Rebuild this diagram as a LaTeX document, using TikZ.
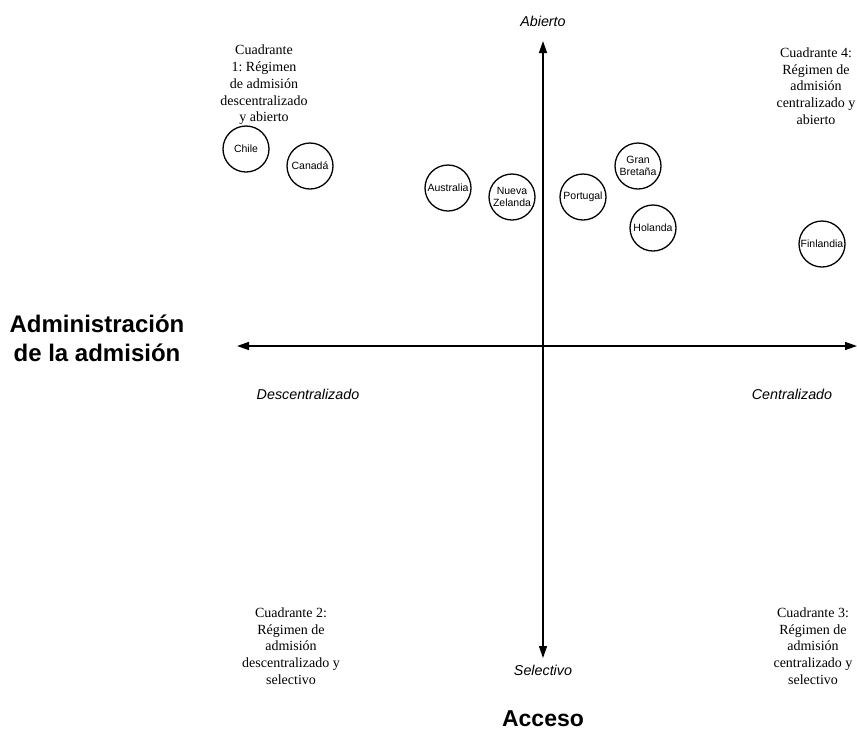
\documentclass[tikz,border=0pt]{standalone}
\usepackage{fontspec}
\setmainfont{Liberation Serif}
\setsansfont{Liberation Sans}
\usetikzlibrary{arrows.meta}
\frenchspacing

\tikzset{
  pais/.style={circle, draw, line width=1.3pt, minimum size=46pt, inner sep=0pt,
    align=center, font=\sffamily\fontsize{10.5}{11.5}\selectfont},
  cuadrante/.style={align=center, font=\fontsize{14}{16.7}\selectfont},
  polo/.style={font=\sffamily\itshape\fontsize{14.3}{16}\selectfont},
  titulo/.style={align=center, font=\sffamily\bfseries\fontsize{24}{29}\selectfont},
  eje/.style={line width=1.4pt, {Triangle[length=12pt,width=8pt]}-{Triangle[length=12pt,width=8pt]}}
}

\begin{document}
\begin{tikzpicture}[x=1pt,y=-1pt]
    \useasboundingbox (0,0) rectangle (857,732);
    % ejes
    \coordinate (arriba) at (543,41);
    \coordinate (abajo) at (543,658);
    \coordinate (izq) at (237,346);
    \coordinate (der) at (857,346);
    \draw[eje] (izq) -- (der);
    \draw[eje] (abajo) -- (arriba);
    \node[polo] (abierto) at (543,21) {Abierto};
    \node[polo] (selectivo) at (543,670) {Selectivo};
    \node[polo] (descentr) at (308,394) {Descentralizado};
    \node[polo] (centr) at (792,394) {Centralizado};
    \node[titulo, font=\sffamily\bfseries\fontsize{23}{29}\selectfont] (acceso) at (543,719) {Acceso};
    \node[titulo] (admin) at (97,338) {Administración\\de la admisión};
    % cuadrantes
    \node[cuadrante] (c1) at (264,85) {Cuadrante\\1: Régimen\\de admisión\\descentralizado\\y abierto};
    \node[cuadrante] (c4) at (816,86) {Cuadrante 4:\\Régimen de\\admisión\\centralizado y\\abierto};
    \node[cuadrante] (c2) at (291,646) {Cuadrante 2:\\Régimen de\\admisión\\descentralizado y\\selectivo};
    \node[cuadrante] (c3) at (813,646) {Cuadrante 3:\\Régimen de\\admisión\\centralizado y\\selectivo};
    % paises
    \node[pais] (chile) at (246,149) {Chile};
    \node[pais] (canada) at (310,166) {Canadá};
    \node[pais] (australia) at (448,188) {Australia};
    \node[pais] (nz) at (512,197) {Nueva\\Zelanda};
    \node[pais] (portugal) at (583,197) {Portugal};
    \node[pais] (gb) at (638,166) {Gran\\Bretaña};
    \node[pais] (holanda) at (653,228) {Holanda};
    \node[pais] (finlandia) at (822,244) {Finlandia};
\end{tikzpicture}
\end{document}
